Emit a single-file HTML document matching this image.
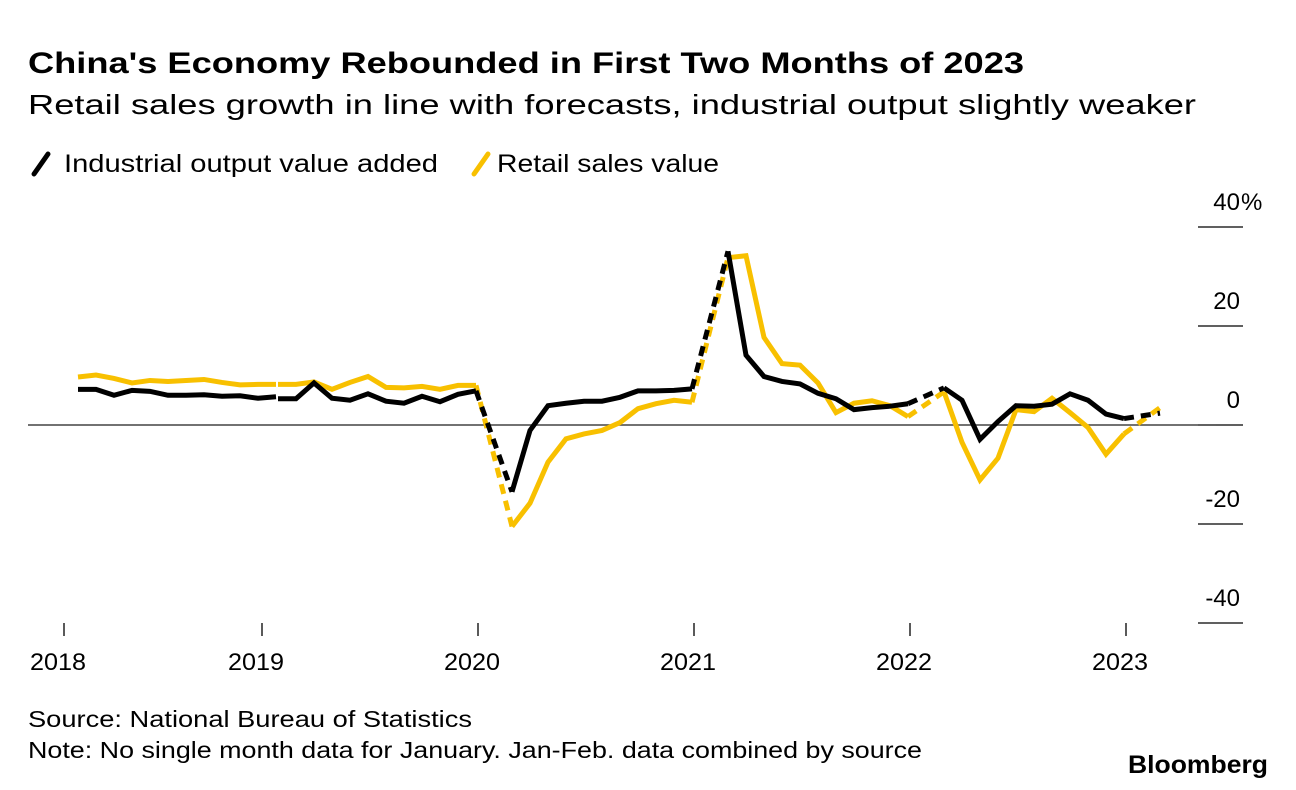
<!DOCTYPE html>
<html><head><meta charset="utf-8"><style>
body{margin:0;background:#fff;font-family:"Liberation Sans",sans-serif;}
svg{display:block}
</style></head><body>
<svg width="1296" height="790" id="c">
<text x="28" y="73" font-size="30" font-weight="bold" fill="#000" textLength="996" lengthAdjust="spacingAndGlyphs">China's Economy Rebounded in First Two Months of 2023</text>
<text x="28" y="114" font-size="28" fill="#000" textLength="1168" lengthAdjust="spacingAndGlyphs">Retail sales growth in line with forecasts, industrial output slightly weaker</text>
<g>
<line x1="34" y1="174" x2="48" y2="154" stroke="#000" stroke-width="5" stroke-linecap="round"/>
<text x="64" y="172" font-size="25" textLength="374" lengthAdjust="spacingAndGlyphs">Industrial output value added</text></g>
<g>
<line x1="474" y1="174" x2="488" y2="154" stroke="#f8c000" stroke-width="5" stroke-linecap="round"/>
<text x="497" y="172" font-size="25" textLength="222" lengthAdjust="spacingAndGlyphs">Retail sales value</text></g>
<g id="axes"></g>
<g id="series"></g>
<text x="28" y="727" font-size="23" textLength="444" lengthAdjust="spacingAndGlyphs">Source: National Bureau of Statistics</text>
<text x="28" y="758" font-size="23" textLength="894" lengthAdjust="spacingAndGlyphs">Note: No single month data for January. Jan-Feb. data combined by source</text>
<text x="1268" y="773" font-size="25" font-weight="bold" text-anchor="end" textLength="140" lengthAdjust="spacingAndGlyphs">Bloomberg</text>
</svg>
<script>
const years=[2018,2019,2020,2021,2022,2023];
const startMonths=[1,1,2,2,2,2];
const industrial=[
[7.2,7.2,6.0,7.0,6.8,6.0,6.0,6.1,5.8,5.9,5.4,5.7],
[5.3,5.3,8.5,5.4,5.0,6.3,4.8,4.4,5.8,4.7,6.2,6.9],
[-13.5,-1.1,3.9,4.4,4.8,4.8,5.6,6.9,6.9,7.0,7.3],
[35.1,14.1,9.8,8.8,8.3,6.4,5.3,3.1,3.5,3.8,4.3],
[7.5,5.0,-2.9,0.7,3.9,3.8,4.2,6.3,5.0,2.2,1.3],
[2.4]];
const retail=[
[9.7,10.1,9.4,8.5,9.0,8.8,9.0,9.2,8.6,8.1,8.2,8.2],
[8.2,8.2,8.7,7.2,8.6,9.8,7.6,7.5,7.8,7.2,8.0,8.0],
[-20.5,-15.8,-7.5,-2.8,-1.8,-1.1,0.5,3.3,4.3,5.0,4.6],
[33.8,34.2,17.7,12.4,12.1,8.5,2.5,4.4,4.9,3.9,1.7],
[6.7,-3.5,-11.1,-6.7,3.1,2.7,5.4,2.5,-0.5,-5.9,-1.8],
[3.5]];
const yTicks=[40,20,0,-20,-40];
const yTickLabels=["40","20","0","-20","-40"];
const xTickLabels=["2018","2019","2020","2021","2022","2023"];
const NS="http://www.w3.org/2000/svg";
function x(yr,m){return 278+(yr-2019)*216+(m-1)*18+(yr===2018?16:0);}
function y(v){return 425-v*4.95;}
function mk(t,a,p){const e=document.createElementNS(NS,t);for(const k in a)e.setAttribute(k,a[k]);p.appendChild(e);return e;}
const ax=document.getElementById('axes');
yTicks.forEach((v,i)=>{
 const l=mk('line',{x1:1198,x2:1243,y1:y(v),y2:y(v),stroke:'#000','stroke-width':1.3},ax);
 
 
 const t=mk('text',{x:1240,y:y(v)-17,'font-size':24,'text-anchor':'end'},ax);
 t.textContent=yTickLabels[i];
 
 
 if(i===0){
  const pc=mk('text',{x:1241,y:y(v)-17,'font-size':24},ax);
  pc.textContent='%';
  
  
 }
});
const z=mk('line',{x1:28,x2:1216,y1:y(0),y2:y(0),stroke:'#444','stroke-width':1.5},ax);


years.forEach((yr,i)=>{
 const xx=i===0?64:x(yr,1)-16;
 const l=mk('line',{x1:xx,x2:xx,y1:623,y2:636,stroke:'#000','stroke-width':1.3},ax);
 
 
 const t=mk('text',{x:xx-6,y:670,'font-size':24,'text-anchor':'middle',textLength:56,lengthAdjust:'spacingAndGlyphs'},ax);
 t.textContent=xTickLabels[i];
 
 
});
const sg=document.getElementById('series');
function draw(data,color,name){
 data.forEach((arr,i)=>{
  const yr=years[i], s=startMonths[i];
  const pts=arr.map((v,j)=>x(yr,s+j)+','+y(v)).join(' ');
  if(arr.length>1){
   const p=mk('polyline',{points:pts,fill:'none',stroke:color,'stroke-width':5,'stroke-linejoin':'miter'},sg);
   
   
  }
  if(i>0&&s===2){
   const prev=data[i-1];
   const d=mk('line',{x1:x(yr-1,12),y1:y(prev[prev.length-1]),x2:x(yr,2),y2:y(arr[0]),stroke:color,'stroke-width':5,'stroke-dasharray':'10 7'},sg);
   
   
  }
 });
}
draw(retail,'#f8c000','retail');
draw(industrial,'#000','industrial');
</script>
</body></html>
